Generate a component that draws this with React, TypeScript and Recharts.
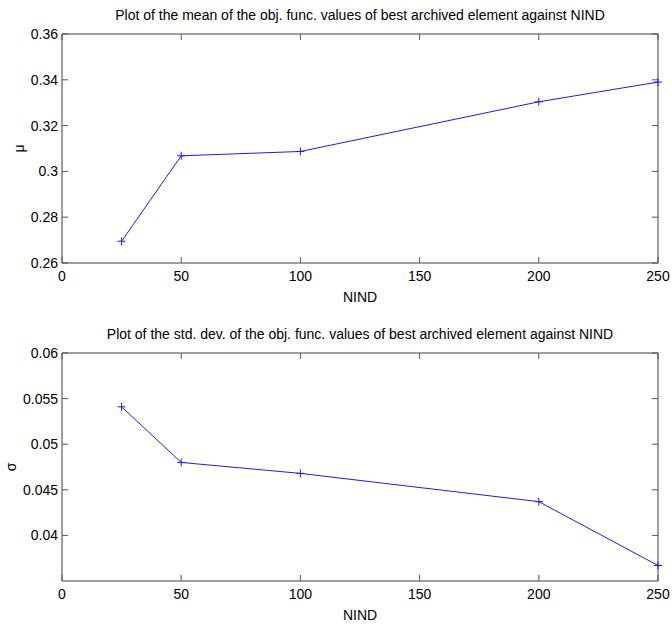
import { LineChart, Line, XAxis, YAxis } from 'recharts'

const NIND = [25, 50, 100, 200, 250]
const MEAN_VALUES = [0.2695, 0.3068, 0.3087, 0.3304, 0.339]
const STD_VALUES = [0.0541, 0.048, 0.0468, 0.0437, 0.0367]

const X_TICKS = [0, 50, 100, 150, 200, 250]
const MEAN_TICKS = [0.26, 0.28, 0.3, 0.32, 0.34, 0.36]
const STD_TICKS = [0.04, 0.045, 0.05, 0.055, 0.06]

const TOP_TITLE = 'Plot of the mean of the obj. func. values of best archived element against NIND'
const BOTTOM_TITLE = 'Plot of the std. dev. of the obj. func. values of best archived element against NIND'

const meanData = NIND.map((n, i) => ({ nind: n, value: MEAN_VALUES[i] }))
const stdData = NIND.map((n, i) => ({ nind: n, value: STD_VALUES[i] }))

const FONT = '"Liberation Sans", Arial, sans-serif'
const AXIS_COLOR = '#404040'
const TICK_COLOR = '#555'
const LINE_COLOR = '#1a1aff'
const TICK_LEN = 6

// MATLAB style ticks: short marks pointing into the box
function BottomTick({ x, y, payload }: any) {
  return (
    <g>
      <line x1={x} x2={x} y1={y} y2={y - TICK_LEN} stroke={TICK_COLOR} />
      <text x={x} y={y + 18} textAnchor="middle" fontSize={14} fontFamily={FONT} fill="#000">
        {payload.value}
      </text>
    </g>
  )
}

function TopTick({ x, y }: any) {
  return <line x1={x} x2={x} y1={y} y2={y + TICK_LEN} stroke={TICK_COLOR} />
}

function LeftTick({ x, y, payload }: any) {
  return (
    <g>
      <line x1={x} x2={x + TICK_LEN} y1={y} y2={y} stroke={TICK_COLOR} />
      <text x={x - 4} y={y + 5} textAnchor="end" fontSize={14} fontFamily={FONT} fill="#000">
        {payload.value}
      </text>
    </g>
  )
}

function RightTick({ x, y }: any) {
  return <line x1={x} x2={x - TICK_LEN} y1={y} y2={y} stroke={TICK_COLOR} />
}

function PlusDot({ cx, cy }: any) {
  if (cx == null || cy == null) return null
  return <path d={`M${cx - 4},${cy}h8M${cx},${cy - 4}v8`} stroke={LINE_COLOR} strokeWidth={1} fill="none" />
}

interface PanelProps {
  data: { nind: number; value: number }[]
  yDomain: [number, number]
  yTicks: number[]
  title: string
  yLabel: string
  labelDx: number
  marginTop: number
  marginBottom: number
}

function Panel({ data, yDomain, yTicks, title, yLabel, labelDx, marginTop, marginBottom }: PanelProps) {
  return (
    <LineChart
      width={672}
      height={313}
      data={data}
      margin={{ top: marginTop, right: 13, left: 0, bottom: marginBottom }}
    >
      <XAxis
        dataKey="nind"
        type="number"
        domain={[0, 250]}
        ticks={X_TICKS}
        height={40}
        tickSize={0}
        tickMargin={0}
        tickLine={false}
        axisLine={{ stroke: AXIS_COLOR }}
        tick={<BottomTick />}
        label={{ value: 'NIND', position: 'insideBottom', offset: 1, fontSize: 14, fontFamily: FONT, fill: '#000' }}
      />
      <XAxis
        xAxisId="top"
        dataKey="nind"
        orientation="top"
        type="number"
        domain={[0, 250]}
        ticks={X_TICKS}
        height={1}
        tickSize={0}
        tickMargin={0}
        tickLine={false}
        axisLine={{ stroke: AXIS_COLOR }}
        tick={<TopTick />}
        label={{ value: title, position: 'top', offset: 13, fontSize: 14, fontFamily: FONT, fill: '#000' }}
      />
      <YAxis
        type="number"
        domain={yDomain}
        ticks={yTicks}
        width={62}
        tickSize={0}
        tickMargin={0}
        tickLine={false}
        axisLine={{ stroke: AXIS_COLOR }}
        tick={<LeftTick />}
        label={{ value: yLabel, angle: -90, position: 'center', dx: labelDx, fontSize: 14, fontFamily: FONT, fill: '#000' }}
      />
      <YAxis
        yAxisId="right"
        orientation="right"
        type="number"
        domain={yDomain}
        ticks={yTicks}
        width={1}
        tickSize={0}
        tickMargin={0}
        tickLine={false}
        axisLine={{ stroke: AXIS_COLOR }}
        tick={<RightTick />}
      />
      {/* invisible series so the box axes (top / right) get drawn */}
      <Line
        xAxisId="top"
        yAxisId="right"
        type="linear"
        dataKey="value"
        stroke="none"
        dot={false}
        activeDot={false}
        isAnimationActive={false}
      />
      <Line
        type="linear"
        dataKey="value"
        stroke={LINE_COLOR}
        strokeWidth={1}
        dot={<PlusDot />}
        activeDot={false}
        isAnimationActive={false}
      />
    </LineChart>
  )
}

export default function App() {
  return (
    <div style={{ position: 'absolute', left: 0, top: 0, width: 672, height: 626, background: '#fff' }}>
      <Panel
        data={meanData}
        yDomain={[0.26, 0.36]}
        yTicks={MEAN_TICKS}
        title={TOP_TITLE}
        yLabel="μ"
        labelDx={-12}
        marginTop={33}
        marginBottom={10}
      />
      <Panel
        data={stdData}
        yDomain={[0.035, 0.06]}
        yTicks={STD_TICKS}
        title={BOTTOM_TITLE}
        yLabel="σ"
        labelDx={-20}
        marginTop={39}
        marginBottom={5}
      />
    </div>
  )
}
